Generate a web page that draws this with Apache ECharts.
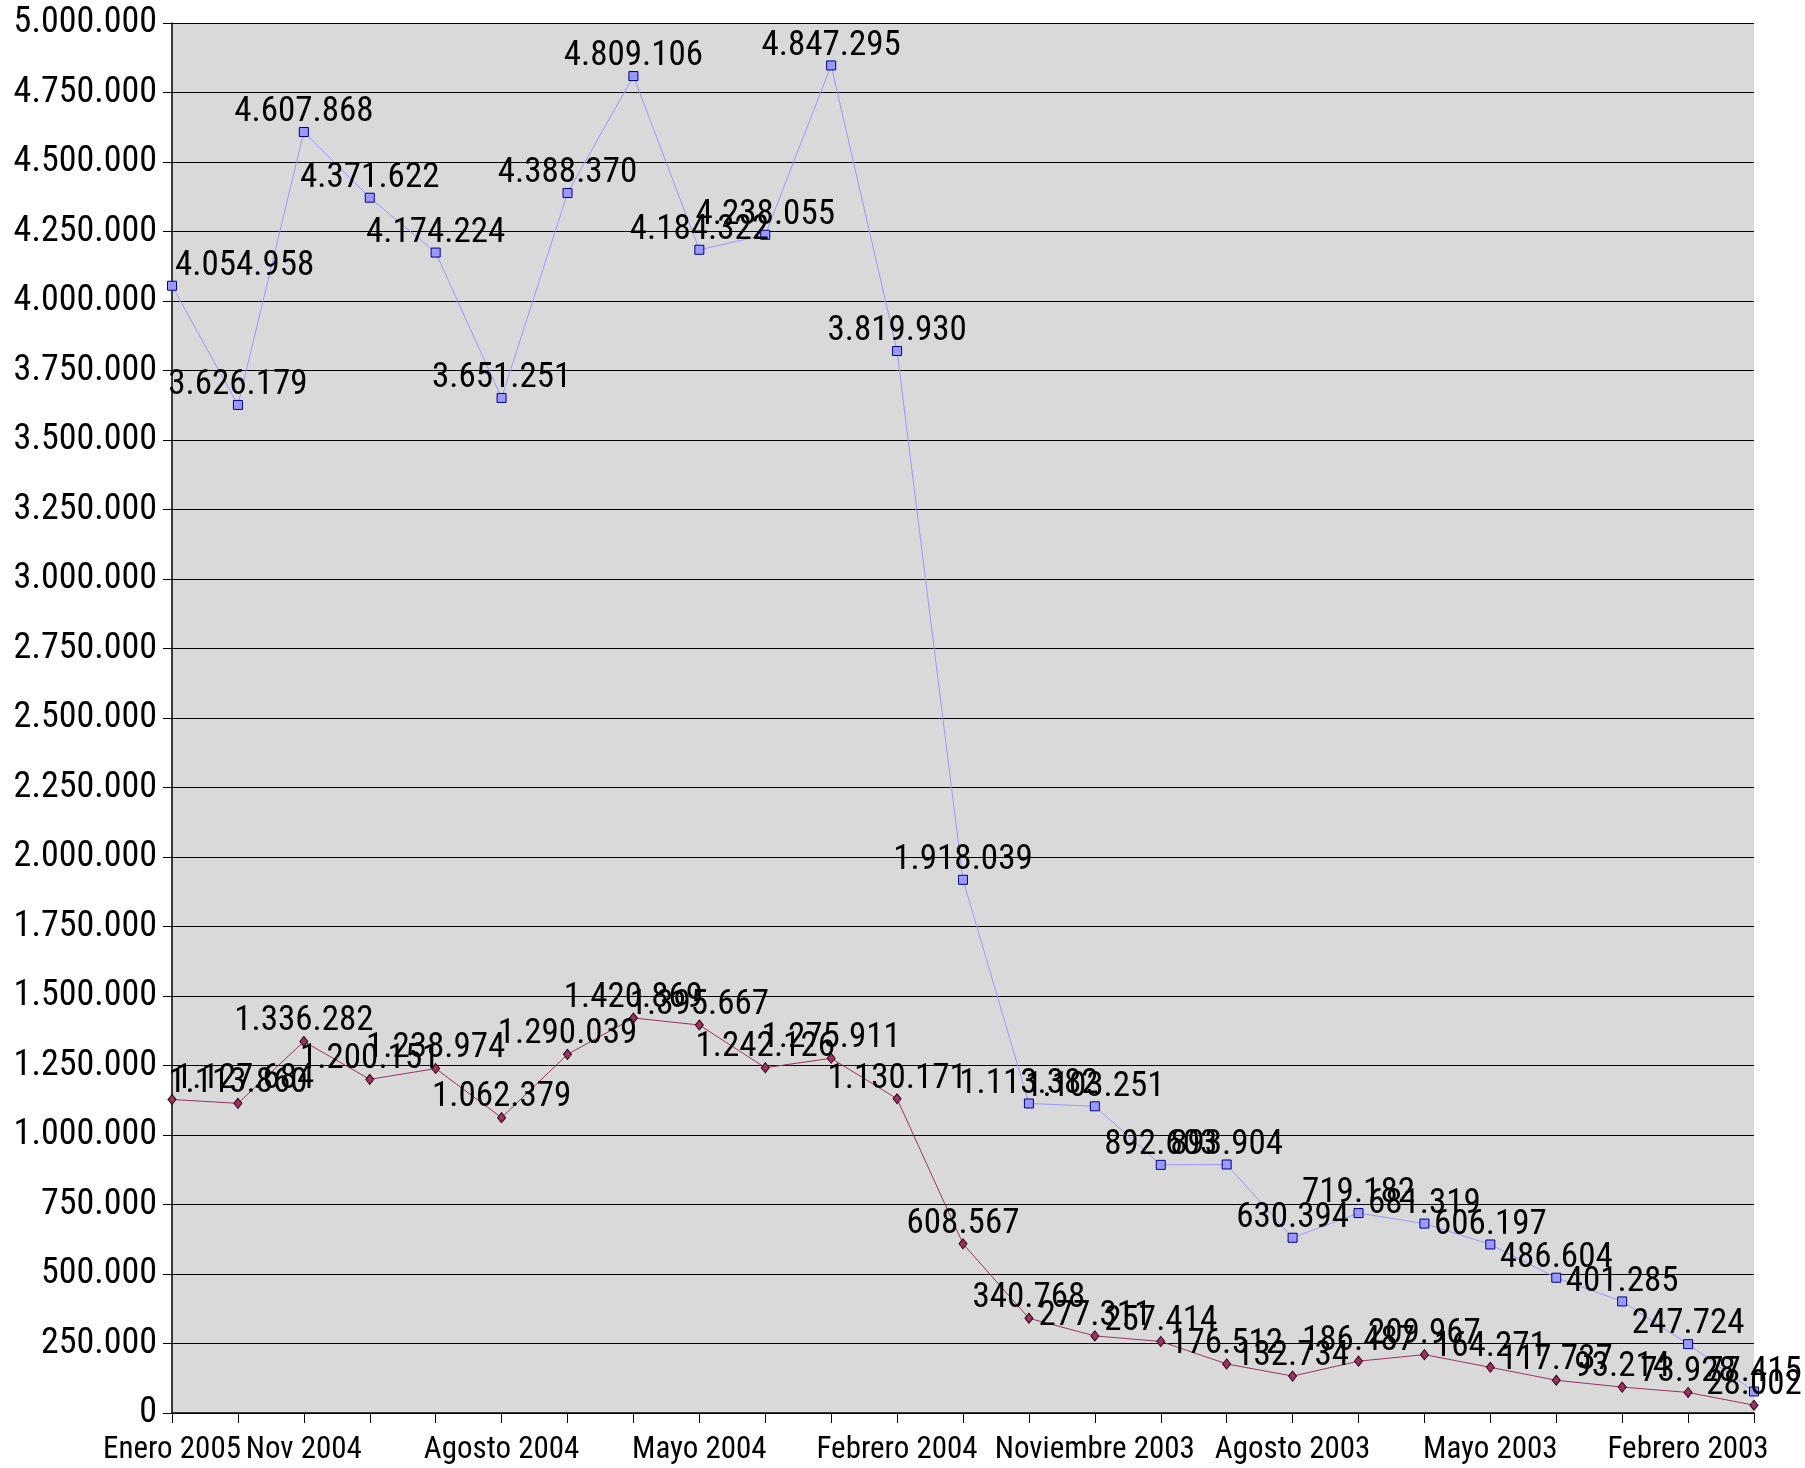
<!DOCTYPE html>
<html>
<head>
<meta charset="utf-8">
<script src="https://cdn.jsdelivr.net/npm/echarts@6/dist/echarts.min.js"></script>
<style>
html,body{margin:0;padding:0;background:#fff;}
#chart{width:1805px;height:1468px;}
</style>
</head>
<body>
<div id="chart"></div>
<script>
var categories = ["Enero 2005","Diciembre 2004","Nov 2004","Octubre 2004","Septiembre 2004","Agosto 2004","Julio 2004","Junio 2004","Mayo 2004","Abril 2004","Marzo 2004","Febrero 2004","Enero 2004","Diciembre 2003","Noviembre 2003","Octubre 2003","Septiembre 2003","Agosto 2003","Julio 2003","Junio 2003","Mayo 2003","Abril 2003","Marzo 2003","Febrero 2003","Enero 2003"];
var blueValues = [4054958,3626179,4607868,4371622,4174224,3651251,4388370,4809106,4184322,4238055,4847295,3819930,1918039,1113382,1103251,892603,893904,630394,719182,681319,606197,486604,401285,247724,77415];
var redValues = [1127684,1113860,1336282,1200151,1238974,1062379,1290039,1420869,1395667,1242126,1275911,1130171,608567,340768,277311,257414,176512,132734,186487,209967,164271,117737,93214,73928,28002];
var yTicks = {min:0, max:5000000, interval:250000};

function fmt(v){ return String(Math.round(v)).replace(/\B(?=(\d{3})+(?!\d))/g,'.'); }

function buildData(arr){
  return arr.map(function(v,i){
    if(i===0){ return {value:v, label:{align:'left', offset:[3,0]}}; }
    return v;
  });
}

var cond = '"Roboto Condensed",sans-serif';

var chart = echarts.init(document.getElementById('chart'));
chart.setOption({
  animation:false,
  backgroundColor:'#ffffff',
  grid:{left:172, right:51, top:23, bottom:55, show:true, backgroundColor:'#d9d9d9', borderWidth:0, containLabel:false, outerBoundsMode:'none'},
  xAxis:{
    type:'category',
    data:categories,
    boundaryGap:false,
    axisLine:{show:true, lineStyle:{color:'#000', width:1.5}},
    axisTick:{show:true, interval:0, length:10, lineStyle:{color:'#000', width:1}},
    axisLabel:{
      interval:function(i){ return i===0 || i%3===2; },
      showMinLabel:true, hideOverlap:false,
      color:'#000', fontFamily:cond, fontSize:31, fontWeight:450, margin:22
    },
    splitLine:{show:false}
  },
  yAxis:{
    type:'value',
    min:yTicks.min, max:yTicks.max, interval:yTicks.interval,
    axisLine:{show:true, lineStyle:{color:'#000', width:1.5}},
    axisTick:{show:true, length:9, lineStyle:{color:'#000', width:1}},
    axisLabel:{color:'#000', fontFamily:cond, fontSize:36, fontWeight:450, margin:15, formatter:function(v){return fmt(v);}},
    splitLine:{show:true, lineStyle:{color:'#000', width:1.2}}
  },
  series:[
    {
      name:'Serie 1', type:'line', data:buildData(blueValues),
      symbol:'rect', symbolSize:9,
      lineStyle:{color:'#9999ff', width:1},
      itemStyle:{color:'#9999ff', borderColor:'#000080', borderWidth:1},
      label:{show:true, position:'top', distance:-3, color:'#000', fontFamily:cond, fontSize:35, fontWeight:450,
        formatter:function(p){return fmt(p.value);}}
    },
    {
      name:'Serie 2', type:'line', data:buildData(redValues),
      symbol:'diamond', symbolSize:[8,10],
      lineStyle:{color:'#993366', width:1},
      itemStyle:{color:'#993366', borderColor:'#330011', borderWidth:1},
      label:{show:true, position:'top', distance:-3, color:'#000', fontFamily:cond, fontSize:35, fontWeight:450,
        formatter:function(p){return fmt(p.value);}}
    }
  ]
});
</script>
</body>
</html>
